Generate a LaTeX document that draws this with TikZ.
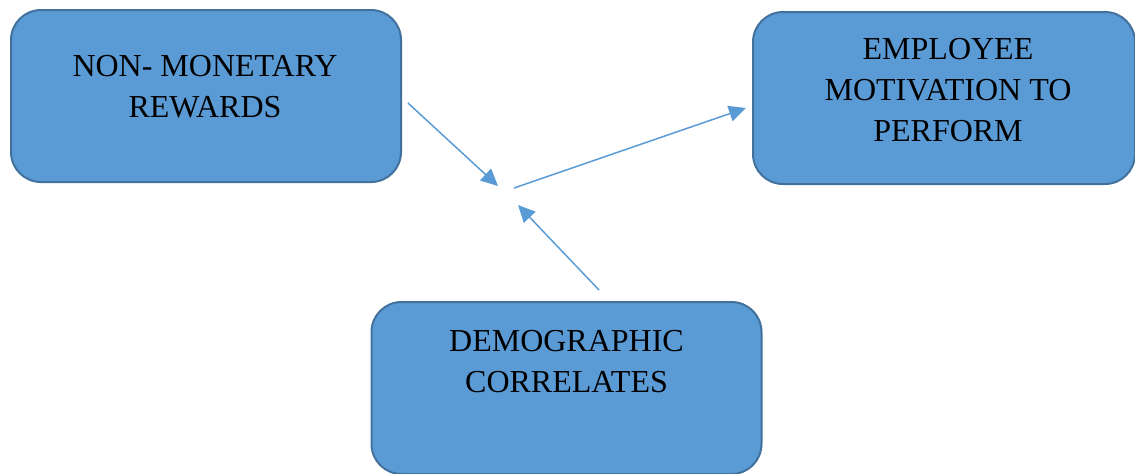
\documentclass[tikz,border=0pt]{standalone}
\usepackage{fontspec}
\setmainfont{Liberation Serif}
\usetikzlibrary{arrows.meta}
\definecolor{boxblue}{HTML}{5B9BD5}
\definecolor{boxedge}{HTML}{41719C}

\begin{document}
\begin{tikzpicture}[x=0.5pt, y=-0.5pt,
  block/.style={rectangle, rounded corners=15pt, draw=boxedge, line width=1pt, fill=boxblue,
    minimum width=195pt, minimum height=86pt, inner sep=0pt},
  caption/.style={align=center, anchor=base, inner sep=0pt, font=\fontsize{16}{20.3}\selectfont},
  link/.style={draw=boxblue, line width=0.75pt, -{Triangle[length=8.5pt, width=8pt]}}]
  \useasboundingbox (0,0) rectangle (1135,473);

  \node[block] (rewards) at (206,96) {};
  \node[block, minimum width=191pt] (motivation) at (944,98) {};
  \node[block] (demo) at (566.5,388) {};

  % base anchor sits on the last line
  \node[caption] (rewardstext) at (205,117) {NON- MONETARY\\REWARDS};
  \node[caption] (motivationtext) at (948,141) {EMPLOYEE\\MOTIVATION TO\\PERFORM};
  \node[caption] (demotext) at (566.5,392) {DEMOGRAPHIC\\CORRELATES};

  \coordinate (rewardsout) at (408,103);
  \coordinate (rewardsin) at (498,186);
  \coordinate (motivationout) at (514,188);
  \coordinate (motivationin) at (746,108);
  \coordinate (demoout) at (599,290);
  \coordinate (demoin) at (518,205);

  \draw[link] (rewardsout) -- (rewardsin);
  \draw[link] (motivationout) -- (motivationin);
  \draw[link] (demoout) -- (demoin);
\end{tikzpicture}
\end{document}
